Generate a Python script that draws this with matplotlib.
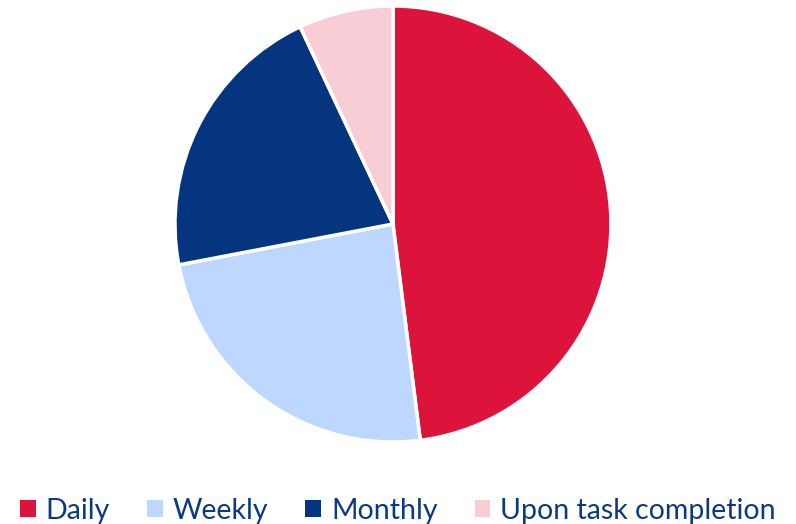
import matplotlib.pyplot as plt
from matplotlib.patches import Patch

# slice labels and shares (%)
labels = ["Daily", "Weekly", "Monthly", "Upon task completion"]
shares = [48, 24, 21, 7]
colors = ["#DC143C", "#BDD7FF", "#063580", "#F8CDD6"]

plt.rcParams["font.family"] = ["Lato", "DejaVu Sans"]

fig = plt.figure(figsize=(7.96, 5.24), dpi=100)
ax = fig.add_axes([0.2198, 0.1565, 0.5477, 0.832])

ax.pie(
    shares,
    colors=colors,
    startangle=90,
    counterclock=False,
    radius=1.0,
    wedgeprops=dict(edgecolor="white", linewidth=2.5),
)
ax.set_xlim(-1, 1)
ax.set_ylim(-1, 1)
ax.set_aspect("equal")
ax.axis("off")

handles = [Patch(facecolor=c, edgecolor="none") for c in colors]
leg = fig.legend(
    handles,
    labels,
    loc="center",
    bbox_to_anchor=(0.5, 0.025),
    ncol=4,
    frameon=False,
    fontsize=20.5,
    handlelength=0.55,
    handleheight=0.55,
    handletextpad=0.35,
    columnspacing=1.3,
)
for t in leg.get_texts():
    t.set_color("#0B3A82")

fig.savefig("out.png", dpi=100)
